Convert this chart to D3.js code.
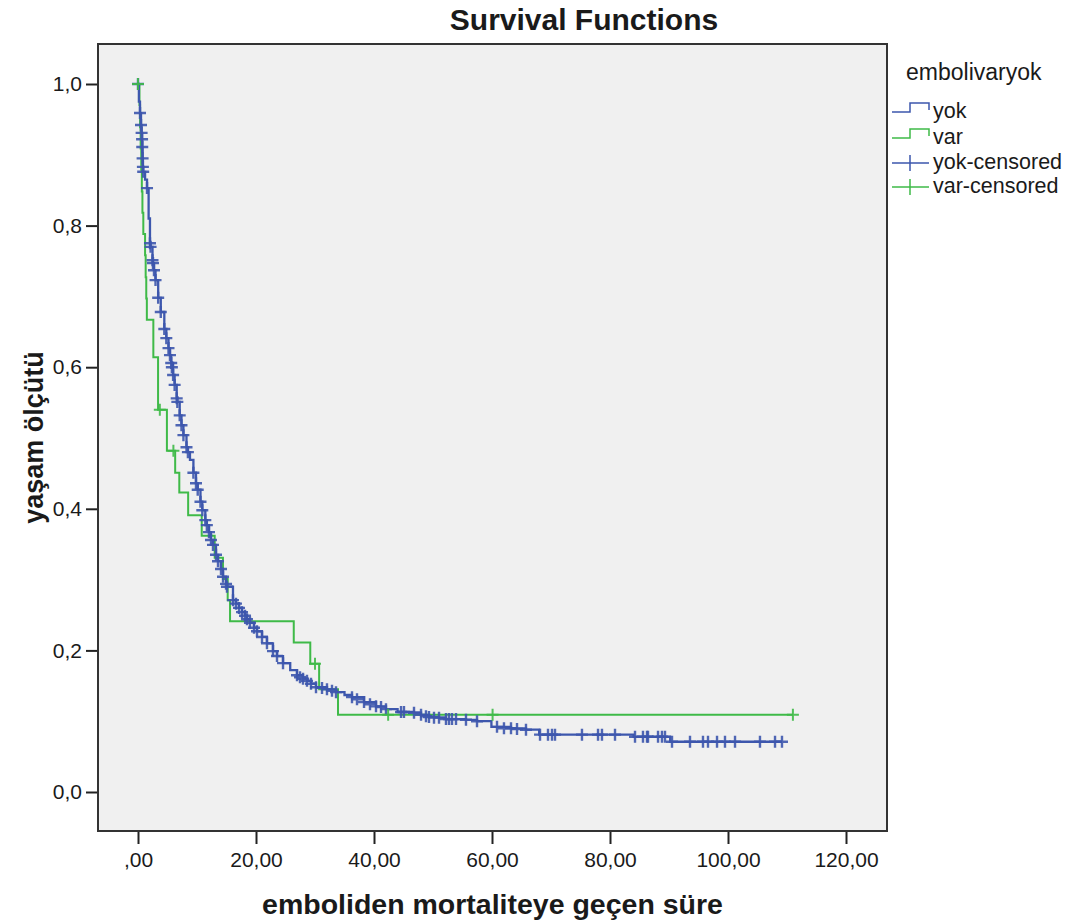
<!DOCTYPE html>
<html lang="tr">
  <head>
    <meta charset="UTF-8" />
    <title>Survival Functions</title>
    <style>
      body {
        margin: 0;
        background: #fff;
      }
      text {
        font-family: 'Liberation Sans', Arial, sans-serif;
        fill: #1a1a1a;
      }
    </style>
  </head>
  <body>
    <div id="main"></div>
    <script src="https://cdn.jsdelivr.net/npm/d3@7"></script>
    <script>
      // yok group: Kaplan-Meier step points (time, survival)
      const yokTime = [0, 0.15, 0.34, 0.51, 0.61, 0.69, 0.72, 0.78, 0.83, 0.88, 1.2, 1.53, 1.8, 2.03, 2.13, 2.46, 2.54, 2.71, 2.97, 3.42, 3.86, 4.46, 4.8, 5.17, 5.42, 5.63, 5.95, 6.21, 6.56, 6.67, 7.07, 7.37, 7.7, 8.22, 8.46, 8.81, 9.39, 9.83, 10.12, 10.59, 10.9, 11.41, 11.67, 12.03, 12.37, 12.71, 13.22, 13.56, 14.07, 14.41, 14.92, 15.08, 16.1, 16.61, 17.12, 17.63, 18.14, 18.47, 18.98, 19.66, 20.17, 21.02, 21.86, 22.88, 23.56, 24.58, 25.8, 26.95, 27.97, 28.64, 29.32, 30.17, 32.03, 33.56, 35.0, 36.27, 38.31, 40.34, 42.03, 44.0, 46.78, 47.97, 49.32, 51.02, 52.2, 55.59, 57.46, 59.9, 63.22, 65.76, 68.0, 84.0, 90.2, 109.15]
      const yokSurv = [1, 0.975, 0.959, 0.942, 0.931, 0.922, 0.911, 0.895, 0.883, 0.876, 0.865, 0.853, 0.81, 0.775, 0.77, 0.751, 0.747, 0.737, 0.723, 0.698, 0.678, 0.654, 0.641, 0.627, 0.617, 0.606, 0.589, 0.575, 0.556, 0.551, 0.532, 0.518, 0.504, 0.487, 0.48, 0.469, 0.451, 0.436, 0.427, 0.41, 0.398, 0.384, 0.377, 0.367, 0.356, 0.349, 0.335, 0.326, 0.315, 0.304, 0.294, 0.29, 0.271, 0.266, 0.26, 0.254, 0.249, 0.244, 0.239, 0.232, 0.227, 0.219, 0.21, 0.199, 0.192, 0.182, 0.172, 0.165, 0.16, 0.157, 0.153, 0.148, 0.145, 0.141, 0.137, 0.134, 0.127, 0.121, 0.117, 0.113, 0.112, 0.109, 0.106, 0.105, 0.103, 0.102, 0.1, 0.092, 0.09, 0.088, 0.081, 0.078, 0.071, 0.071]
      const yokCensorTime = [0, 0.34, 0.51, 0.61, 0.69, 0.72, 0.78, 0.83, 0.88, 1.53, 2.03, 2.13, 2.46, 2.54, 2.71, 2.97, 3.42, 3.86, 4.46, 4.8, 5.17, 5.42, 5.63, 5.74, 5.95, 6.21, 6.56, 6.67, 7.07, 7.37, 7.7, 8.22, 8.46, 9.39, 9.83, 10.12, 10.59, 10.9, 11.41, 11.67, 12.03, 12.37, 12.71, 13.22, 13.56, 14.07, 14.41, 14.92, 15.08, 16.1, 16.61, 17.12, 17.63, 18.14, 18.47, 18.98, 19.66, 20.17, 21.02, 21.86, 22.88, 23.56, 24.58, 26.95, 27.46, 27.97, 28.64, 29.32, 30.17, 31.19, 32.03, 32.88, 33.56, 36.27, 37.12, 38.31, 39.32, 40.34, 41.19, 42.03, 44.58, 45.08, 46.78, 47.97, 48.81, 49.32, 50.17, 51.02, 52.2, 52.71, 53.22, 53.9, 55.59, 57.46, 60.85, 62.03, 63.22, 64.24, 65.76, 68.14, 69.49, 70.17, 70.68, 75.25, 77.97, 78.64, 80.85, 84.24, 85.59, 86.27, 86.44, 88.14, 88.81, 89.32, 90.51, 93.56, 95.76, 96.61, 98.14, 99.49, 101.19, 105.42, 107.97, 109.15]
      const yokCensorSurv = [1, 0.959, 0.942, 0.931, 0.922, 0.911, 0.895, 0.883, 0.876, 0.853, 0.775, 0.77, 0.751, 0.747, 0.737, 0.723, 0.698, 0.678, 0.654, 0.641, 0.627, 0.617, 0.606, 0.6, 0.589, 0.575, 0.556, 0.551, 0.532, 0.518, 0.504, 0.487, 0.48, 0.451, 0.436, 0.427, 0.41, 0.398, 0.384, 0.377, 0.367, 0.356, 0.349, 0.335, 0.326, 0.315, 0.304, 0.294, 0.29, 0.271, 0.266, 0.26, 0.254, 0.249, 0.244, 0.239, 0.232, 0.227, 0.219, 0.21, 0.199, 0.192, 0.182, 0.165, 0.162, 0.16, 0.157, 0.153, 0.148, 0.147, 0.145, 0.143, 0.141, 0.134, 0.131, 0.127, 0.124, 0.121, 0.12, 0.117, 0.113, 0.113, 0.112, 0.109, 0.107, 0.106, 0.105, 0.105, 0.103, 0.103, 0.103, 0.103, 0.102, 0.1, 0.092, 0.09, 0.09, 0.089, 0.088, 0.081, 0.081, 0.081, 0.081, 0.081, 0.081, 0.081, 0.081, 0.078, 0.078, 0.078, 0.078, 0.078, 0.078, 0.078, 0.071, 0.071, 0.071, 0.071, 0.071, 0.071, 0.071, 0.071, 0.071, 0.071]

      // var group
      const varTime = [0, 0.25, 0.35, 0.45, 0.55, 0.65, 0.75, 0.9, 1.2, 1.3, 1.4, 1.5, 2.6, 3.4, 4.9, 6.3, 7.0, 8.5, 10.8, 13.0, 14.4, 15.2, 15.6, 26.4, 29.2, 30.7, 33.9, 111.0]
      const varSurv = [1, 0.97, 0.939, 0.909, 0.879, 0.848, 0.818, 0.788, 0.758, 0.727, 0.697, 0.667, 0.614, 0.54, 0.482, 0.451, 0.423, 0.391, 0.362, 0.331, 0.301, 0.271, 0.241, 0.211, 0.181, 0.145, 0.109, 0.109]
      const varCensorTime = [0, 3.7, 6.0, 30.0, 42.4, 60.1, 111.0]
      const varCensorSurv = [1, 0.54, 0.482, 0.181, 0.109, 0.109, 0.109]

      const xTicks = [0, 20, 40, 60, 80, 100, 120]
      const yTicks = [0, 0.2, 0.4, 0.6, 0.8, 1.0]
      const legendItems = ['yok', 'var', 'yok-censored', 'var-censored']

      const [width, height] = [1067, 924]
      const frame = { left: 98, right: 887, top: 44, bottom: 831 }
      const blue = '#3d57ad'
      const green = '#3fba48'

      const svg = d3
        .select('#main')
        .append('svg')
        .attr('width', width)
        .attr('height', height)
        .attr('viewBox', `0 0 ${width} ${height}`)

      const xScale = d3.scaleLinear().domain([0, 120]).range([138, 846])
      const yScale = d3.scaleLinear().domain([0, 1]).range([792, 84])

      // plot area
      svg
        .append('rect')
        .attr('x', frame.left)
        .attr('y', frame.top)
        .attr('width', frame.right - frame.left)
        .attr('height', frame.bottom - frame.top)
        .attr('fill', '#f0f0f0')

      const fmtX = d => (d === 0 ? ',00' : d.toFixed(2).replace('.', ','))
      const fmtY = d => d.toFixed(1).replace('.', ',')

      const xAxis = svg
        .append('g')
        .attr('transform', `translate(0, ${frame.bottom})`)
        .call(
          d3.axisBottom(xScale).tickValues(xTicks).tickFormat(fmtX).tickSize(13).tickSizeOuter(0).tickPadding(8)
        )
      const yAxis = svg
        .append('g')
        .attr('transform', `translate(${frame.left}, 0)`)
        .call(
          d3.axisLeft(yScale).tickValues(yTicks).tickFormat(fmtY).tickSize(12).tickSizeOuter(0).tickPadding(4)
        )
      ;[xAxis, yAxis].forEach(ax => {
        ax.select('.domain').remove()
        ax.selectAll('line').attr('stroke', '#222').attr('stroke-width', 2)
        ax.selectAll('text').style('font-size', '21px').attr('fill', '#1a1a1a')
      })

      const line = d3
        .line()
        .x(d => xScale(d[0]))
        .y(d => yScale(d[1]))
        .curve(d3.curveStepAfter)

      const plot = svg.append('g')

      plot
        .append('path')
        .datum(d3.zip(varTime, varSurv))
        .attr('d', line)
        .attr('fill', 'none')
        .attr('stroke', green)
        .attr('stroke-width', 2)

      plot
        .append('path')
        .datum(d3.zip(yokTime, yokSurv))
        .attr('d', line)
        .attr('fill', 'none')
        .attr('stroke', blue)
        .attr('stroke-width', 2.3)

      const cross = 6
      const drawCensor = (times, survs, color, w) => {
        plot
          .append('g')
          .selectAll('path')
          .data(d3.zip(times, survs))
          .join('path')
          .attr('d', ([t, s]) => {
            const x = xScale(t)
            const y = yScale(s)
            return `M${x - cross},${y}H${x + cross}M${x},${y - cross}V${y + cross}`
          })
          .attr('stroke', color)
          .attr('stroke-width', w)
          .attr('stroke-opacity', 0.9)
          .attr('fill', 'none')
      }
      drawCensor(yokCensorTime, yokCensorSurv, blue, 2.4)
      drawCensor(varCensorTime, varCensorSurv, green, 2)

      // frame border
      svg
        .append('rect')
        .attr('x', frame.left)
        .attr('y', frame.top)
        .attr('width', frame.right - frame.left)
        .attr('height', frame.bottom - frame.top)
        .attr('fill', 'none')
        .attr('stroke', '#333')
        .attr('stroke-width', 2)

      // titles
      svg
        .append('text')
        .attr('x', 584)
        .attr('y', 30)
        .attr('text-anchor', 'middle')
        .style('font-size', '30px')
        .style('font-weight', 'bold')
        .text('Survival Functions')

      svg
        .append('text')
        .attr('x', (frame.left + frame.right) / 2)
        .attr('y', 914)
        .attr('text-anchor', 'middle')
        .style('font-size', '28.5px')
        .style('font-weight', 'bold')
        .text('emboliden mortaliteye geçen süre')

      svg
        .append('text')
        .attr('transform', `translate(43, ${(frame.top + frame.bottom) / 2}) rotate(-90)`)
        .attr('text-anchor', 'middle')
        .style('font-size', '27px')
        .style('font-weight', 'bold')
        .text('yaşam ölçütü')

      // legend
      const legend = svg.append('g').attr('transform', 'translate(892, 0)')
      legend
        .append('text')
        .attr('x', 14)
        .attr('y', 80)
        .style('font-size', '23px')
        .text('embolivaryok')

      const rowY = [112, 138, 163, 187]
      legendItems.forEach((name, i) => {
        const color = i % 2 === 0 ? blue : green
        const y = rowY[i]
        const g = legend.append('g')
        if (i < 2) {
          g.append('path')
            .attr('d', `M0,${y}H18V${y - 9}H37V${y - 2}`)
            .attr('fill', 'none')
            .attr('stroke', color)
            .attr('stroke-width', 1.5)
        } else {
          g.append('path')
            .attr('d', `M0,${y}H37M18,${y - 8}V${y + 8}`)
            .attr('fill', 'none')
            .attr('stroke', color)
            .attr('stroke-width', 1.5)
        }
        g.append('text')
          .attr('x', 41)
          .attr('y', y + 6)
          .style('font-size', '21.5px')
          .text(name)
      })
    </script>
  </body>
</html>
